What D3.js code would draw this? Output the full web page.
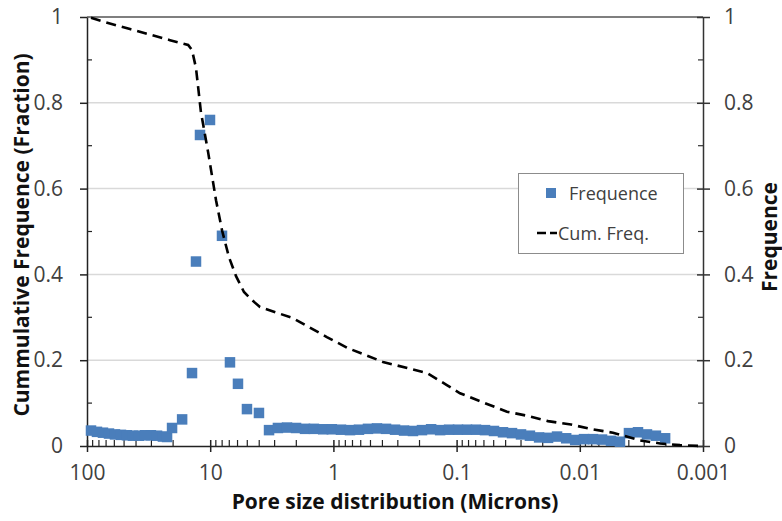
<!DOCTYPE html>
<html>
<head>
<meta charset="utf-8">
<script src="https://cdn.jsdelivr.net/npm/d3@7"></script>
<style>
  body { margin: 0; background: #fff; }
  svg text { font-family: "Open Sans", "Noto Sans", sans-serif; }
</style>
</head>
<body>
<svg id="chart" width="782" height="521"></svg>
<script>
// pore size (microns) and frequence of each measured point
var freqSize = [92.8, 83.0, 74.2, 66.3, 59.3, 53.0, 47.4, 42.4, 37.9, 33.8, 30.3, 27.0, 24.2, 22.4,
  20.4, 16.9, 14.05, 13.04, 12.1, 10.04, 8.02, 6.91, 5.95, 5.03, 4.02, 3.33,
  2.82, 2.38, 2.01, 1.70, 1.44, 1.21, 1.03, 0.868, 0.733, 0.620, 0.524, 0.443, 0.374, 0.316,
  0.267, 0.226, 0.191, 0.161, 0.136, 0.115, 0.0974, 0.0823, 0.0696, 0.0588, 0.0497, 0.0420,
  0.0355, 0.0300, 0.0254, 0.0214, 0.0181, 0.0153, 0.0129, 0.0109, 0.00924, 0.00781, 0.00660,
  0.00558, 0.00472, 0.00399, 0.00337, 0.00285, 0.00241, 0.00203];
var freqValue = [0.036, 0.033, 0.031, 0.029, 0.027, 0.026, 0.025, 0.024, 0.024, 0.025, 0.025, 0.024, 0.022, 0.021,
  0.042, 0.062, 0.17, 0.43, 0.725, 0.76, 0.49, 0.195, 0.145, 0.086, 0.077, 0.037,
  0.042, 0.043, 0.042, 0.040, 0.040, 0.039, 0.039, 0.038, 0.037, 0.038, 0.040, 0.041, 0.040, 0.038,
  0.036, 0.035, 0.037, 0.039, 0.037, 0.038, 0.038, 0.038, 0.038, 0.037, 0.035, 0.032,
  0.030, 0.027, 0.024, 0.020, 0.019, 0.022, 0.018, 0.014, 0.016, 0.016, 0.015,
  0.012, 0.010, 0.030, 0.032, 0.027, 0.024, 0.018];

// cumulative frequence curve
var cumSize = [92.8, 71.4, 44.8, 21.2, 15.1, 14.05, 13.04, 11.9, 10.4, 8.97, 8.02, 7.04, 6.17, 5.32,
  4.58, 3.94, 2.13, 1.13, 0.761, 0.396, 0.174, 0.120, 0.0938, 0.0566, 0.039, 0.0263, 0.0181,
  0.0118, 0.00826, 0.00538, 0.00325, 0.00223, 0.00154, 0.00106];
var cumValue = [0.998, 0.988, 0.972, 0.946, 0.935, 0.923, 0.881, 0.779, 0.685, 0.573, 0.503, 0.44, 0.396, 0.359,
  0.34, 0.324, 0.298, 0.254, 0.228, 0.196, 0.17, 0.142, 0.123, 0.098, 0.08, 0.07, 0.058,
  0.05, 0.04, 0.031, 0.013, 0.006, 0.002, 0.0];

var xTicks = [100, 10, 1, 0.1, 0.01, 0.001];
var xTickLabels = ["100", "10", "1", "0.1", "0.01", "0.001"];
var yTicks = [0, 0.2, 0.4, 0.6, 0.8, 1];
var yTickLabels = ["0", "0.2", "0.4", "0.6", "0.8", "1"];
var yMinor = [0.1, 0.3, 0.5, 0.7, 0.9];

// plot box (note: "top" is reserved on window, so use other names)
var pLeft = 87, pRight = 703, pTop = 17, pBottom = 446;
var svg = d3.select("#chart");

var x = d3.scaleLog().domain([100, 0.001]).range([pLeft, pRight]);
var y = d3.scaleLinear().domain([0, 1]).range([pBottom, pTop]);

var textCol = "#404040";
var tickFont = 21;
var titleFont = 21;

// gridlines
svg.append("g").selectAll("line")
  .data(yTicks.filter(function(d){ return d > 0 && d < 1; }))
  .enter().append("line")
  .attr("x1", pLeft).attr("x2", pRight)
  .attr("y1", function(d){ return y(d); }).attr("y2", function(d){ return y(d); })
  .attr("stroke", "#d9d9d9").attr("stroke-width", 1.5);
svg.append("line")
  .attr("x1", pLeft).attr("x2", pRight).attr("y1", y(1)).attr("y2", y(1))
  .attr("stroke", "#555").attr("stroke-width", 1.5);

// bottom axis
var xAxis = svg.append("g").attr("transform", "translate(0," + pBottom + ")")
  .call(d3.axisBottom(x).tickValues(xTicks).tickSize(6).tickSizeOuter(0)
    .tickFormat(function(d, i){ return xTickLabels[i]; }));
xAxis.select(".domain").attr("stroke", "#222").attr("stroke-width", 1.5);
xAxis.selectAll(".tick line").attr("y1", -6).attr("stroke", "#222").attr("stroke-width", 1.5);
xAxis.selectAll(".tick text").attr("font-size", tickFont).attr("fill", textCol)
  .attr("y", 19).attr("dy", "0.71em").attr("font-family", "Open Sans");
var xMinor = x.ticks().filter(function(d){ return xTicks.indexOf(d) < 0; });
xAxis.append("g").selectAll("line").data(xMinor).enter().append("line")
  .attr("x1", function(d){ return x(d); }).attr("x2", function(d){ return x(d); })
  .attr("y1", 0).attr("y2", -6).attr("stroke", "#222").attr("stroke-width", 1.2);

// left axis
var yAxisL = svg.append("g").attr("transform", "translate(" + pLeft + ",0)")
  .call(d3.axisLeft(y).tickValues(yTicks).tickSize(7).tickSizeOuter(0)
    .tickFormat(function(d, i){ return yTickLabels[i]; }));
yAxisL.select(".domain").attr("stroke", "#222").attr("stroke-width", 1.5);
yAxisL.selectAll(".tick line").attr("stroke", "#222").attr("stroke-width", 1.5);
yAxisL.selectAll(".tick text").attr("font-size", tickFont).attr("fill", textCol).attr("x", -24)
  .attr("font-family", "Open Sans");
yAxisL.append("g").selectAll("line").data(yMinor).enter().append("line")
  .attr("x1", 0).attr("x2", 5)
  .attr("y1", function(d){ return y(d); }).attr("y2", function(d){ return y(d); })
  .attr("stroke", "#222").attr("stroke-width", 1.2);

// right axis
var yAxisR = svg.append("g").attr("transform", "translate(" + pRight + ",0)")
  .call(d3.axisRight(y).tickValues(yTicks).tickSize(7).tickSizeOuter(0)
    .tickFormat(function(d, i){ return yTickLabels[i]; }));
yAxisR.select(".domain").attr("stroke", "#333").attr("stroke-width", 1.5);
yAxisR.selectAll(".tick line").attr("x1", -6).attr("stroke", "#333").attr("stroke-width", 1.5);
yAxisR.selectAll(".tick text").attr("font-size", tickFont).attr("fill", textCol).attr("x", 21)
  .attr("font-family", "Open Sans");
yAxisR.append("g").selectAll("line").data(yMinor).enter().append("line")
  .attr("x1", 0).attr("x2", -5)
  .attr("y1", function(d){ return y(d); }).attr("y2", function(d){ return y(d); })
  .attr("stroke", "#333").attr("stroke-width", 1.2);

// frequence squares
var sq = 10.5;
svg.append("g").selectAll("rect")
  .data(freqSize.map(function(s, i){ return {s: s, v: freqValue[i]}; }))
  .enter().append("rect")
  .attr("x", function(d){ return x(d.s) - sq / 2; })
  .attr("y", function(d){ return y(d.v) - sq / 2; })
  .attr("width", sq).attr("height", sq)
  .attr("fill", "#4a7ebb");

// cumulative line
var line = d3.line()
  .x(function(d){ return x(d.s); })
  .y(function(d){ return y(d.v); });
svg.append("path")
  .datum(cumSize.map(function(s, i){ return {s: s, v: cumValue[i]}; }))
  .attr("d", line)
  .attr("fill", "none").attr("stroke", "#000")
  .attr("stroke-width", 2.6).attr("stroke-dasharray", "10,6");

// legend
var lg = svg.append("g");
lg.append("rect").attr("x", 518.5).attr("y", 173.5).attr("width", 165).attr("height", 80)
  .attr("fill", "#fff").attr("stroke", "#8c8c8c").attr("stroke-width", 1);
lg.append("rect").attr("x", 546).attr("y", 188).attr("width", 10).attr("height", 10).attr("fill", "#4a7ebb");
lg.append("text").attr("x", 569).attr("y", 200).attr("font-size", 18).attr("fill", textCol).text("Frequence");
lg.append("line").attr("x1", 537).attr("x2", 557).attr("y1", 233).attr("y2", 233)
  .attr("stroke", "#000").attr("stroke-width", 2.6).attr("stroke-dasharray", "9,4");
lg.append("text").attr("x", 558).attr("y", 240).attr("font-size", 18).attr("fill", textCol).text("Cum. Freq.");

// axis titles
svg.append("text").attr("x", 395).attr("y", 509).attr("text-anchor", "middle")
  .attr("font-size", titleFont).attr("font-weight", "bold").attr("fill", "#111")
  .text("Pore size distribution (Microns)");
svg.append("text").attr("transform", "translate(29,235) rotate(-90)")
  .attr("text-anchor", "middle")
  .attr("font-size", titleFont).attr("font-weight", "bold").attr("fill", "#111")
  .text("Cummulative Frequence (Fraction)");
svg.append("text").attr("transform", "translate(777,237) rotate(-90)")
  .attr("text-anchor", "middle")
  .attr("font-size", titleFont).attr("font-weight", "bold").attr("fill", "#111")
  .text("Frequence");
</script>
</body>
</html>
